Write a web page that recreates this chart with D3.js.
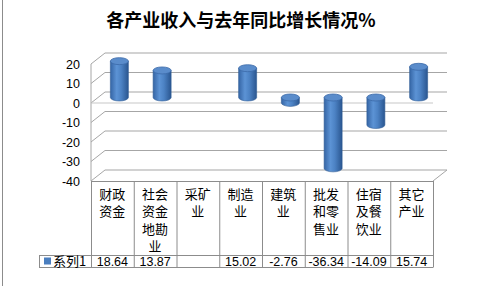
<!DOCTYPE html>
<html>
<head>
<meta charset="utf-8">
<script src="https://cdn.jsdelivr.net/npm/d3@7"></script>
<style>
  body { margin: 0; background: #fff; }
  svg { display: block; }
</style>
</head>
<body>
<div id="chart"></div>
<script>
var title = '各产业收入与去年同比增长情况%';
var seriesName = '系列1';
var categories = ['财政资金', '社会资金地勘业', '采矿业', '制造业', '建筑业', '批发和零售业', '住宿及餐饮业', '其它产业'];
var values = [18.64, 13.87, null, 15.02, -2.76, -36.34, -14.09, 15.74];
var valueLabels = ['18.64', '13.87', '', '15.02', '-2.76', '-36.34', '-14.09', '15.74'];
var yTicks = [20, 10, 0, -10, -20, -30, -40];

var width = 480, height = 286;
var dx = 14, dy = -11;   // depth offset of the back wall
var tableBottom = 267, rowTop = 255, labelLeft = 39;

var svg = d3.select('#chart').append('svg')
  .attr('width', width)
  .attr('height', height);

var x = d3.scaleBand().domain(categories).range([91, 433]);
var y = d3.scaleLinear().domain([-40, 20]).range([181, 64]);

var grid = '#a6a6a6';

// frame
svg.append('line')
  .attr('x1', 2.5).attr('x2', 2.5).attr('y1', 0).attr('y2', height)
  .attr('stroke', '#8c8c8c');

svg.append('text')
  .attr('x', 241).attr('y', 27)
  .attr('text-anchor', 'middle')
  .attr('font-family', '"Noto Sans CJK SC", sans-serif')
  .attr('font-weight', 'bold')
  .attr('font-size', '18px')
  .attr('fill', '#000')
  .text(title);

// back wall gridlines + side wall diagonals
yTicks.forEach(function(t) {
  svg.append('line')
    .attr('x1', x.range()[0] + dx).attr('x2', x.range()[1] + dx)
    .attr('y1', y(t) + dy).attr('y2', y(t) + dy)
    .attr('stroke', grid).attr('stroke-width', 1.2);
  svg.append('line')
    .attr('x1', x.range()[0]).attr('x2', x.range()[0] + dx)
    .attr('y1', y(t)).attr('y2', y(t) + dy)
    .attr('stroke', grid);
});

// left wall edge
svg.append('line')
  .attr('x1', x.range()[0]).attr('x2', x.range()[0])
  .attr('y1', y(20)).attr('y2', y(-40))
  .attr('stroke', grid);

// floor at -40
svg.append('line')
  .attr('x1', x.range()[1]).attr('x2', x.range()[1] + dx)
  .attr('y1', y(-40)).attr('y2', y(-40) + dy)
  .attr('stroke', grid);

// zero plane front edge
svg.append('line')
  .attr('x1', x.range()[0]).attr('x2', x.range()[1])
  .attr('y1', y(0)).attr('y2', y(0))
  .attr('stroke', '#c8c8c8').attr('stroke-width', 1.2);

// y labels
svg.selectAll('text.ytick')
  .data(yTicks)
  .enter()
  .append('text')
  .attr('class', 'ytick')
  .attr('x', 80)
  .attr('y', function(d) { return y(d) + 4.5; })
  .attr('text-anchor', 'end')
  .attr('font-family', '"Liberation Sans", Arial, sans-serif')
  .attr('font-size', '12.5px')
  .attr('fill', '#000')
  .text(function(d) { return d; });

// cylinders
var defs = svg.append('defs');
var grad = defs.append('linearGradient').attr('id', 'cyl')
  .attr('x1', '0%').attr('x2', '100%').attr('y1', '0%').attr('y2', '0%');
grad.append('stop').attr('offset', '0%').attr('stop-color', '#3565a5');
grad.append('stop').attr('offset', '35%').attr('stop-color', '#5c93d5');
grad.append('stop').attr('offset', '60%').attr('stop-color', '#4c82c4');
grad.append('stop').attr('offset', '100%').attr('stop-color', '#2a5690');

var rx = 9, ry = 3.5;
var bars = categories.map(function(c, i) { return { c: c, v: values[i] }; })
  .filter(function(d) { return d.v !== null; });

var g = svg.selectAll('g.cyl')
  .data(bars)
  .enter()
  .append('g')
  .attr('class', 'cyl');

g.append('path')
  .attr('d', function(d) {
    var cx = x(d.c) + x.bandwidth() / 2 + dx / 2;
    var y0 = y(Math.max(d.v, 0)) + dy / 2;
    var y1 = y(Math.min(d.v, 0)) + dy / 2;
    return 'M' + (cx - rx) + ',' + y0 + 'L' + (cx - rx) + ',' + y1 +
      'A' + rx + ',' + ry + ' 0 0 0 ' + (cx + rx) + ',' + y1 +
      'L' + (cx + rx) + ',' + y0 + 'Z';
  })
  .attr('fill', 'url(#cyl)')
  .attr('stroke', '#2f5c96')
  .attr('stroke-width', 0.6);

g.append('ellipse')
  .attr('cx', function(d) { return x(d.c) + x.bandwidth() / 2 + dx / 2; })
  .attr('cy', function(d) { return y(Math.max(d.v, 0)) + dy / 2; })
  .attr('rx', rx).attr('ry', ry)
  .attr('fill', '#5a8ccb')
  .attr('stroke', '#3b6aa8')
  .attr('stroke-width', 0.8);

// data table
var tbl = svg.append('g').attr('stroke', '#8c8c8c').attr('stroke-width', 1);
x.domain().forEach(function(c) {
  tbl.append('line')
    .attr('x1', x(c) + 0.5).attr('x2', x(c) + 0.5)
    .attr('y1', y(-40)).attr('y2', tableBottom);
});
tbl.append('line')
  .attr('x1', x.range()[1] + 0.5).attr('x2', x.range()[1] + 0.5)
  .attr('y1', y(-40)).attr('y2', tableBottom);
tbl.append('line')
  .attr('x1', x.range()[0]).attr('x2', x.range()[1] + 0.5)
  .attr('y1', y(-40) + 0.5).attr('y2', y(-40) + 0.5);
tbl.append('line')
  .attr('x1', labelLeft).attr('x2', x.range()[1] + 0.5)
  .attr('y1', rowTop + 0.5).attr('y2', rowTop + 0.5);
tbl.append('line')
  .attr('x1', labelLeft).attr('x2', x.range()[1] + 0.5)
  .attr('y1', tableBottom + 0.5).attr('y2', tableBottom + 0.5);
tbl.append('line')
  .attr('x1', labelLeft + 0.5).attr('x2', labelLeft + 0.5)
  .attr('y1', rowTop).attr('y2', tableBottom);

// category labels, two characters per line
categories.forEach(function(c) {
  var lines = [];
  for (var k = 0; k < c.length; k += 2) lines.push(c.slice(k, k + 2));
  var t = svg.append('text')
    .attr('text-anchor', 'middle')
    .attr('font-family', '"Noto Sans CJK SC", sans-serif')
    .attr('font-size', '13px')
    .attr('fill', '#000');
  lines.forEach(function(l, j) {
    t.append('tspan')
      .attr('x', x(c) + x.bandwidth() / 2)
      .attr('y', 198.5 + j * 17.6)
      .text(l);
  });
});

// values row
svg.selectAll('text.val')
  .data(categories)
  .enter()
  .append('text')
  .attr('class', 'val')
  .attr('x', function(d) { return x(d) + x.bandwidth() / 2; })
  .attr('y', 266)
  .attr('text-anchor', 'middle')
  .attr('font-family', '"Liberation Sans", Arial, sans-serif')
  .attr('font-size', '12.5px')
  .attr('fill', '#000')
  .text(function(d, i) { return valueLabels[i]; });

// legend key
svg.append('rect')
  .attr('x', 44).attr('y', 257.5).attr('width', 7).attr('height', 7)
  .attr('fill', '#4a7ebf');
svg.append('text')
  .attr('x', 53).attr('y', 266)
  .attr('font-family', '"Noto Sans CJK SC", sans-serif')
  .attr('font-size', '13px')
  .attr('fill', '#000')
  .text(seriesName);
</script>
</body>
</html>
